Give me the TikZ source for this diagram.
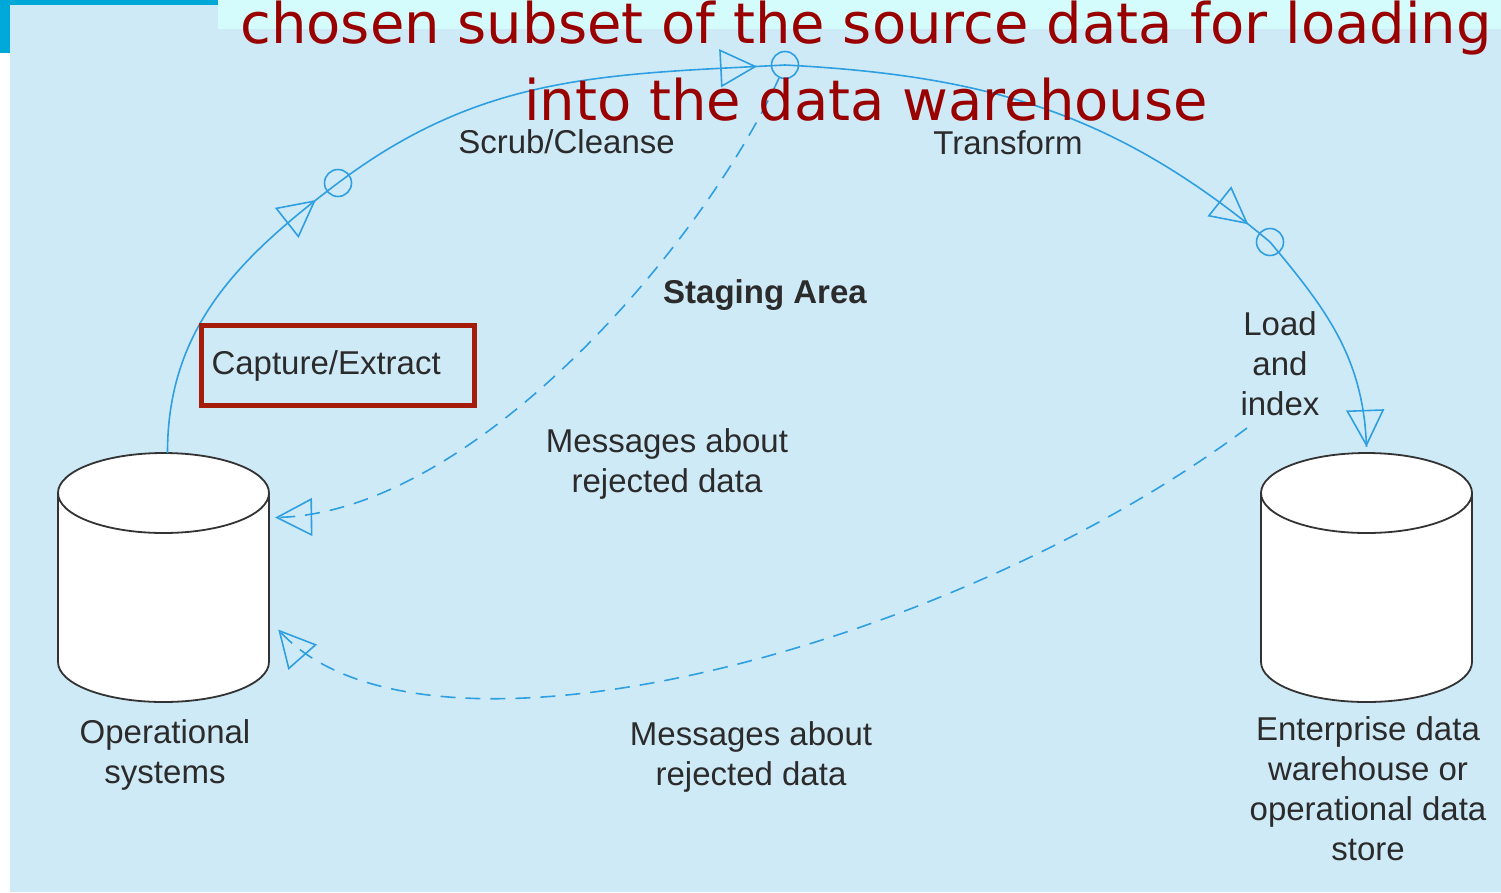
\documentclass[tikz,border=0pt]{standalone}
\usepackage{fontspec}
\usetikzlibrary{arrows.meta,decorations.markings}
\newfontfamily\lblfont{Liberation Sans}
\newfontfamily\ttlfont{DejaVu Sans}
\definecolor{bgblue}{HTML}{CFEAF7}
\definecolor{bandcyan}{HTML}{D4FCFC}
\definecolor{barteal}{HTML}{00A8D8}
\definecolor{ttlred}{HTML}{990000}
\definecolor{boxred}{HTML}{A51C0A}
\definecolor{flowblue}{HTML}{2E9FE0}
\definecolor{lblgray}{HTML}{2B2B2B}
\definecolor{cylgray}{HTML}{333333}
\tikzset{
  lbl/.style={font=\lblfont\fontsize{33}{40}\selectfont, text=lblgray, align=center, inner sep=0pt, anchor=base},
  ttl/.style={font=\ttlfont\fontsize{56}{77}\selectfont, text=ttlred, align=center, inner sep=0pt, anchor=base},
  cylnode/.style={minimum width=211pt, minimum height=249pt, inner sep=0pt},
  cylline/.style={draw=cylgray, fill=white, line width=1.8pt},
  jcircle/.style={circle, draw=flowblue, line width=1.6pt, minimum size=27pt, inner sep=0pt},
  flow/.style={draw=flowblue, line width=1.6pt},
  rej/.style={draw=flowblue, line width=1.6pt, dash pattern=on 15pt off 10pt},
  tipat/.style={postaction={decorate, decoration={markings,
      mark=at position #1 with {\arrow{Triangle[open, length=37pt, width=38pt, line width=1.6pt]}}}}},
  capbox/.style={draw=boxred, line width=5pt, minimum width=273pt, minimum height=80pt,
      text width=253pt, align=left, inner xsep=10pt, inner ysep=0pt,
      font=\lblfont\fontsize{33}{40}\selectfont, text=lblgray},
  dbcyl/.pic={
    \path[cylline] (-105.5,-84.5) -- (-105.5,84.5) arc(180:0:105.5 and 40)
      -- (105.5,-84.5) arc(0:-180:105.5 and 40) -- cycle;
    \draw[cylline, fill=none] (-105.5,-84.5) arc(180:0:105.5 and 40);
  }
}
\begin{document}
\begin{tikzpicture}[x=1pt, y=-1pt]
\useasboundingbox (0,0) rectangle (1501,892);
\fill[white] (0,0) rectangle (1501,892);
\fill[bgblue] (10,5) rectangle (1501,892);
\fill[bandcyan] (218,0) rectangle (1501,29);
\fill[barteal] (0,0) rectangle (218,5);
\fill[barteal] (0,0) rectangle (10,53);

% cylinders
\node[cylnode] (ops) at (163.5,577.5) {};
\pic at (163.5,577.5) {dbcyl};
\node[cylnode] (wh) at (1366.5,577.5) {};
\pic at (1366.5,577.5) {dbcyl};

% junction circles
\node[jcircle] (c1) at (338,183) {};
\node[jcircle] (c2) at (785,65) {};
\node[jcircle] (c3) at (1270,242) {};
\coordinate (rejsrc) at (1247,428);

% main flow
\draw[flow, tipat=-28pt] ([xshift=4pt]ops.north) to[out=90, in=217] (c1.center);
\draw[flow, tipat=-28pt] (c1.center) to[out=37, in=183] (c2.center);
\draw[flow, tipat=-28pt] (c2.center) to[out=-3, in=140] (c3.center);
\draw[flow, tipat=1] (c3.center) to[out=-50, in=92] ([yshift=6pt]wh.north);

% rejected data flows
\draw[rej, tipat=1] (c2) .. controls (700,250) and (470,515) .. ([xshift=6pt,yshift=60pt]ops.east);
\draw[rej, tipat=1] (rejsrc) .. controls (950,650) and (420,790) .. ([xshift=9pt,yshift=-52pt]ops.east);

% title
\node[ttl] (title) at (866,120) {chosen subset of the source data for loading\\into the data warehouse};

% labels
\node[capbox] (cap) at (338,365.5) {Capture/Extract};
\node[lbl] (scrub) at (566.5,153) {Scrub/Cleanse};
\node[lbl] (transform) at (1008,154) {Transform};
\node[lbl, font=\lblfont\bfseries\fontsize{33}{40}\selectfont] (staging) at (765,303) {Staging Area};
\node[lbl] (load) at (1280,415) {Load\\and\\index};
\node[lbl] (msg1) at (667,492) {Messages about\\rejected data};
\node[lbl] (msg2) at (751,785) {Messages about\\rejected data};
\node[lbl] (opslbl) at (165,783) {Operational\\systems};
\node[lbl] (whlbl) at (1368,860) {Enterprise data\\warehouse or\\operational data\\store};
\end{tikzpicture}
\end{document}
